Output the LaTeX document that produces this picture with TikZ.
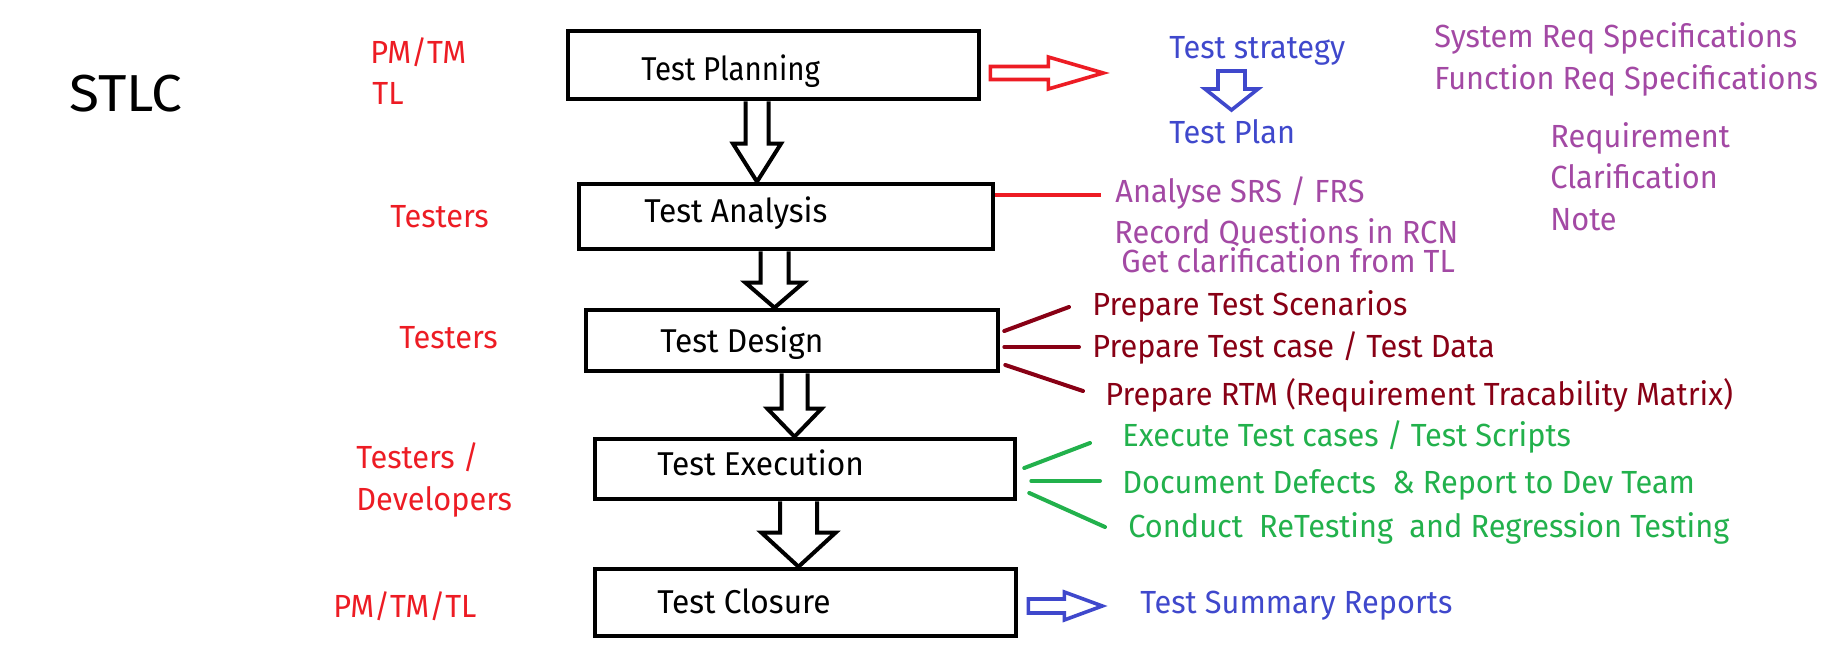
\documentclass[tikz,border=0pt]{standalone}
\usepackage{fontspec}
\setmainfont[FakeStretch=0.96]{Fira Sans}
\usetikzlibrary{calc}
\definecolor{pred}{HTML}{ED1C24}
\definecolor{pblue}{HTML}{3F48CC}
\definecolor{ppurple}{HTML}{A349A4}
\definecolor{pdred}{HTML}{880015}
\definecolor{pgreen}{HTML}{22B14C}
\newcommand\mytf{\fontsize{16pt}{19pt}\selectfont}
\newcommand\mybf{\fontsize{16.5pt}{20pt}\selectfont}
\newcommand\varrow[6]{%
  \coordinate (#1top) at (#3,0 |- #1.south);
  \coordinate (#1tip) at (#3,0 |- #2.north);
  \draw[blockarr] ([shift={(-#4,0)}]#1top) -- ([shift={(-#4,-#6)}]#1tip)
    -- ([shift={(-#5,-#6)}]#1tip) -- (#1tip) -- ([shift={(#5,-#6)}]#1tip)
    -- ([shift={(#4,-#6)}]#1tip) -- ([shift={(#4,0)}]#1top);}
\begin{document}
\begin{tikzpicture}[x=0.5pt,y=-0.5pt,
  box/.style={draw=black,line width=2.3pt,rectangle,inner sep=0pt},
  txt/.style={inner sep=0pt,anchor=base west,font=\mytf},
  btxt/.style={inner sep=0pt,anchor=base west,font=\mybf},
  role/.style={txt,text=pred},
  blockarr/.style={draw=black,line width=2pt},
  outarr/.style={line width=1.8pt},
  sline/.style={line width=2pt,line cap=round}]
\fill[white] (0,0) rectangle (1828,648);
\useasboundingbox (0,0) rectangle (1828,648);

% title and roles
\node[inner sep=0pt,anchor=base west,font=\fontsize{26pt}{28pt}\selectfont] (stlc) at (69,112) {\scalebox{1.1}[1]{STLC}};
\node[role] (r1a) at (370,63) {PM/TM};
\node[role] (r1b) at (372,104) {TL};
\node[role] (r2) at (390,227) {Testers};
\node[role] (r3) at (399,348) {Testers};
\node[role] (r4a) at (356,468) {Testers /};
\node[role] (r4b) at (356,510) {Developers};
\node[role] (r5) at (333,617) {PM/TM/TL};

% boxes
\node[box,minimum width=411*0.5pt,minimum height=68*0.5pt] (b1) at (773.5,65) {};
\node[box,minimum width=414*0.5pt,minimum height=65*0.5pt] (b2) at (786,216.5) {};
\node[box,minimum width=412*0.5pt,minimum height=61*0.5pt] (b3) at (792,340.5) {};
\node[box,minimum width=420*0.5pt,minimum height=60*0.5pt] (b4) at (805,469) {};
\node[box,minimum width=421*0.5pt,minimum height=67*0.5pt] (b5) at (805.5,602.5) {};

\node[btxt] (t1) at (641,80) {\scalebox{0.93}[1]{Test Planning}};
\node[btxt] (t2) at (644,222) {Test Analysis};
\node[btxt] (t3) at (660,352) {Test Design};
\node[btxt] (t4) at (657,475) {Test Execution};
\node[btxt] (t5) at (657,613) {Test Closure};

% block arrows between boxes
\varrow{b1}{b2}{757}{11.5}{24}{38}
\varrow{b2}{b3}{774.5}{14}{29}{25}
\varrow{b3}{b4}{794.5}{13}{27}{28}
\varrow{b4}{b5}{798.5}{18.5}{37}{34}

% planning outputs
\node[txt,text=pblue] (ts) at (1169,58) {Test strategy};
\node[txt,text=pblue] (tp) at (1169,143) {Test Plan};
\coordinate (ra0) at ([shift={(9,8)}]b1.east);
\draw[outarr,draw=pred,shift={(ra0)}] (0,-6.5) -- (58,-6.5) -- (58,-16) -- (113,0) -- (58,16) -- (58,6.5) -- (0,6.5) -- cycle;
\coordinate (ba0) at ([shift={(62.5,13)}]ts.base west);
\draw[outarr,draw=pblue,shift={(ba0)}] (-13.5,0) -- (-13.5,18) -- (-26.5,18) -- (0,39) -- (26.5,18) -- (13.5,18) -- (13.5,0) -- cycle;

\node[txt,text=ppurple] (srs) at (1434,47) {System Req Specifications};
\node[txt,text=ppurple] (frs) at (1434,89) {Function Req Specifications};
\node[txt,text=ppurple] (rq1) at (1550,147) {Requirement};
\node[txt,text=ppurple] (rq2) at (1550,188) {Clarification};
\node[txt,text=ppurple] (rq3) at (1550,230) {Note};

% analysis
\node[txt,text=ppurple] (an1) at (1115,202) {Analyse SRS / FRS};
\node[txt,text=ppurple] (an2) at (1114,243) {Record Questions in RCN};
\node[txt,text=ppurple] (an3) at (1121,272) {Get clarification from TL};
\draw[line width=1.6pt,draw=pred] ([shift={(0,-21.5)}]b2.east) -- ([shift={(-14,-7)}]an1.base west);

% design
\node[txt,text=pdred] (ps) at (1092,315) {Prepare Test Scenarios};
\node[txt,text=pdred] (pc) at (1092,357) {Prepare Test case / Test Data};
\node[txt,text=pdred] (pr) at (1105,405) {Prepare RTM (Requirement Tracability Matrix)};
\draw[sline,draw=pdred] ([shift={(4,-9.5)}]b3.east) -- ([shift={(-23,-8)}]ps.base west);
\draw[sline,draw=pdred] ([shift={(4,6.5)}]b3.east) -- ([shift={(-13,-10)}]pc.base west);
\draw[sline,draw=pdred] ([shift={(5,24.5)}]b3.east) -- ([shift={(-22,-14)}]pr.base west);

% execution
\node[txt,text=pgreen] (ex) at (1122,446) {Execute Test cases / Test Scripts};
\node[txt,text=pgreen] (dd) at (1122,493) {Document Defects~ \& Report to Dev Team};
\node[txt,text=pgreen] (cr) at (1128,537) {Conduct~ ReTesting~ and Regression Testing};
\draw[sline,draw=pgreen] ([shift={(7,-1)}]b4.east) -- ([shift={(-32,-3)}]ex.base west);
\draw[sline,draw=pgreen] ([shift={(14,12)}]b4.east) -- ([shift={(-22,-12)}]dd.base west);
\draw[sline,draw=pgreen] ([shift={(12,24)}]b4.east) -- ([shift={(-23,-10)}]cr.base west);

% closure
\node[txt,text=pblue] (sr) at (1140,613) {Test Summary Reports};
\coordinate (ca0) at ([shift={(10,3.5)}]b5.east);
\draw[outarr,draw=pblue,shift={(ca0)}] (0,-7) -- (36,-7) -- (36,-14) -- (74,0) -- (36,14) -- (36,7) -- (0,7) -- cycle;
\end{tikzpicture}
\end{document}
